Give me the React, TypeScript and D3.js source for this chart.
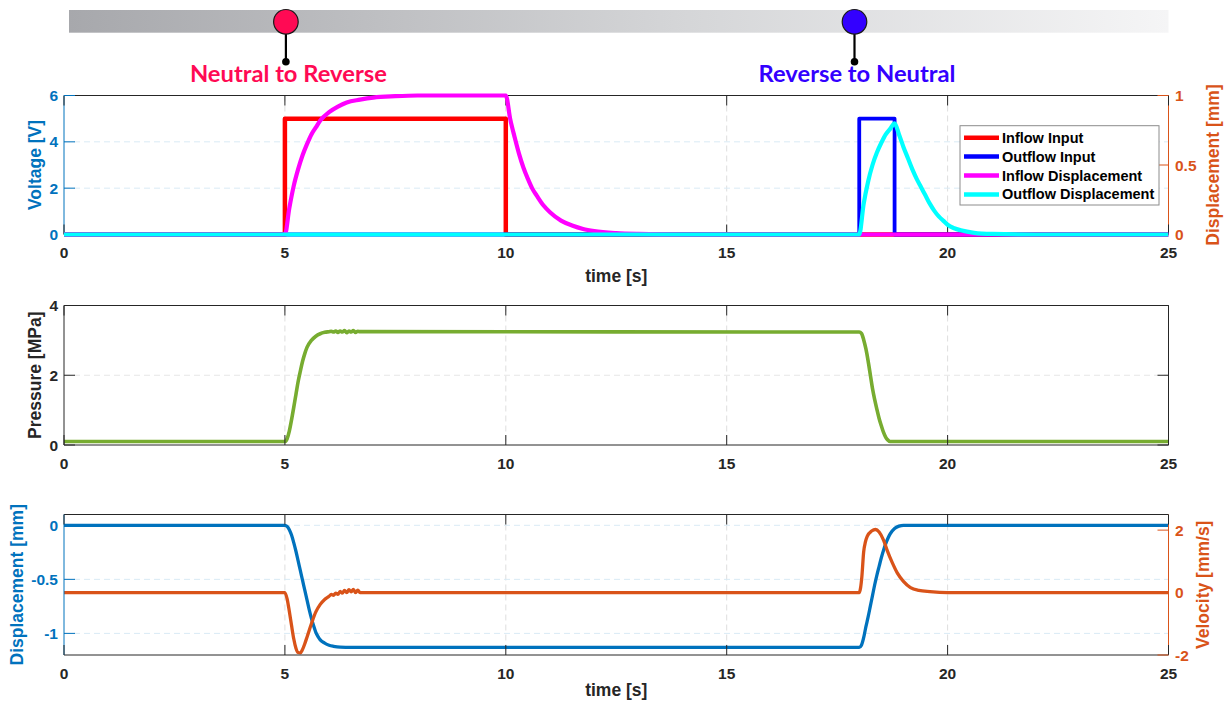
import React from 'react';
import * as d3 from 'd3';

// ---------- data ----------
const timeTicks = [0, 5, 10, 15, 20, 25];
const voltageTicks = [0, 2, 4, 6];
const valveDispTicks = [0, 0.5, 1];
const pressureTicks = [0, 2, 4];
const spoolDispTicks = [-1, -0.5, 0];
const velocityTicks = [-2, 0, 2];

type Pt = [number, number];

// valve command voltages [V]
const inflowInput: Pt[] = [[0, 0], [5, 0], [5, 5], [10, 5], [10, 0], [25, 0]];
const outflowInput: Pt[] = [[0, 0], [18, 0], [18, 5], [18.8, 5], [18.8, 0], [25, 0]];

// valve displacements [mm]
const inflowDisplacement: Pt[] = [
  [0, 0], [5, 0], [5.1, 0.19], [5.2, 0.35], [5.3, 0.47], [5.4, 0.57], [5.5, 0.65], [5.6, 0.72],
  [5.7, 0.77], [5.8, 0.82], [6.0, 0.88], [6.2, 0.92], [6.4, 0.95], [6.7, 0.97], [7.0, 0.985],
  [7.5, 0.995], [8, 1], [10, 1], [10.1, 0.83], [10.2, 0.7], [10.3, 0.58], [10.4, 0.48],
  [10.5, 0.4], [10.6, 0.33], [10.7, 0.28], [10.85, 0.21], [11, 0.16], [11.25, 0.1],
  [11.5, 0.065], [11.75, 0.04], [12, 0.025], [12.5, 0.01], [13, 0.004], [14, 0], [25, 0],
];
const outflowDisplacement: Pt[] = [
  [0, 0], [18, 0], [18.1, 0.22], [18.2, 0.38], [18.3, 0.5], [18.4, 0.59], [18.5, 0.66],
  [18.6, 0.72], [18.7, 0.76], [18.8, 0.8], [18.9, 0.72], [19.0, 0.63], [19.1, 0.55],
  [19.2, 0.47], [19.3, 0.4], [19.4, 0.34], [19.5, 0.28], [19.6, 0.22], [19.7, 0.17],
  [19.8, 0.13], [19.9, 0.1], [20, 0.07], [20.15, 0.045], [20.3, 0.03], [20.6, 0.012],
  [21, 0.004], [22, 0], [25, 0],
];

// chamber pressure [MPa]
const pressure: Pt[] = [
  [0, 0.1], [5, 0.1], [5.05, 0.18], [5.1, 0.4], [5.15, 0.72], [5.2, 1.08], [5.25, 1.45],
  [5.3, 1.82], [5.35, 2.12], [5.4, 2.4], [5.45, 2.62], [5.5, 2.8], [5.6, 3.0], [5.7, 3.12],
  [5.8, 3.19], [5.9, 3.23], [6.0, 3.25], [6.05, 3.26], [6.1, 3.24], [6.15, 3.27], [6.2, 3.23],
  [6.25, 3.27], [6.3, 3.24], [6.35, 3.28], [6.4, 3.22], [6.45, 3.27], [6.5, 3.24], [6.55, 3.28],
  [6.6, 3.23], [6.65, 3.26], [6.7, 3.25], [18, 3.24], [18.05, 3.2], [18.1, 3.02], [18.15, 2.76],
  [18.2, 2.42], [18.25, 2.02], [18.3, 1.62], [18.35, 1.3], [18.4, 1.02], [18.45, 0.76],
  [18.5, 0.55], [18.55, 0.36], [18.6, 0.22], [18.65, 0.14], [18.7, 0.1], [25, 0.1],
];

// spool displacement [mm]
const spoolDisplacement: Pt[] = [
  [0, 0], [5, 0], [5.05, -0.01], [5.1, -0.04], [5.15, -0.09], [5.2, -0.16], [5.25, -0.24],
  [5.3, -0.33], [5.35, -0.42], [5.4, -0.51], [5.45, -0.6], [5.5, -0.69], [5.55, -0.78],
  [5.6, -0.86], [5.65, -0.93], [5.7, -0.99], [5.75, -1.03], [5.8, -1.06], [5.9, -1.09],
  [6.0, -1.11], [6.1, -1.12], [6.25, -1.128], [6.5, -1.13], [18, -1.13], [18.05, -1.11],
  [18.1, -1.04], [18.15, -0.94], [18.2, -0.85], [18.25, -0.75], [18.3, -0.65], [18.35, -0.55],
  [18.4, -0.46], [18.45, -0.38], [18.5, -0.3], [18.55, -0.23], [18.6, -0.17], [18.65, -0.12],
  [18.7, -0.08], [18.8, -0.03], [18.9, -0.008], [19, 0], [25, 0],
];

// spool velocity [mm/s]
const spoolVelocity: Pt[] = [
  [0, 0], [5, 0], [5.05, -0.2], [5.1, -0.6], [5.15, -1.05], [5.2, -1.48], [5.25, -1.78],
  [5.3, -1.92], [5.35, -1.93], [5.4, -1.82], [5.45, -1.64], [5.5, -1.43], [5.6, -1.0],
  [5.7, -0.62], [5.8, -0.38], [5.9, -0.22], [6.0, -0.12], [6.05, -0.06], [6.1, -0.09],
  [6.15, -0.02], [6.2, -0.06], [6.25, 0.04], [6.3, -0.02], [6.35, 0.07], [6.4, 0.0],
  [6.45, 0.09], [6.5, 0.02], [6.55, 0.1], [6.6, 0.0], [6.65, 0.08], [6.7, 0.0], [18, 0],
  [18.03, 0.15], [18.06, 0.52], [18.1, 1.3], [18.14, 1.62], [18.18, 1.8], [18.28, 1.97],
  [18.37, 2.02], [18.45, 1.94], [18.55, 1.68], [18.63, 1.36], [18.75, 0.95], [18.86, 0.63],
  [19.0, 0.36], [19.16, 0.16], [19.35, 0.07], [19.6, 0.03], [20, 0], [25, 0],
];

const legendItems = [
  { label: 'Inflow Input', color: '#FF0000' },
  { label: 'Outflow Input', color: '#0000FF' },
  { label: 'Inflow Displacement', color: '#FF00FF' },
  { label: 'Outflow Displacement', color: '#00FFFF' },
];

// switching events shown on the timeline strip (time in s)
const events = [
  { label: 'Neutral to Reverse', time: 5, color: '#FF0A54' },
  { label: 'Reverse to Neutral', time: 17.87, color: '#3300FF' },
];

// ---------- styling ----------
const FONT = '"Liberation Sans", Arial, Helvetica, sans-serif';
const DARK = '#262626';
const AX_BLUE = '#0072BD';
const AX_ORANGE = '#D95319';
const TICK_FS = 15.5;
const LABEL_FS = 17.5;

const X0 = 64;
const X1 = 1168.5;
const x = d3.scaleLinear().domain([0, 25]).range([X0, X1]);

const lineLin = (ys: d3.ScaleLinear<number, number>) =>
  d3.line<Pt>().x((d) => x(d[0])).y((d) => ys(d[1]));
const lineSmooth = (ys: d3.ScaleLinear<number, number>) =>
  d3.line<Pt>().x((d) => x(d[0])).y((d) => ys(d[1])).curve(d3.curveMonotoneX);

const fmt = (v: number) => String(v);

type AxisProps = {
  top: number;
  bottom: number;
  yl: d3.ScaleLinear<number, number>;
  ylTicks: number[];
  ylColor: string;
  ylLabel?: string;
  ylLabelX?: number;
  yr?: d3.ScaleLinear<number, number>;
  yrTicks?: number[];
  yrColor?: string;
  yrLabel?: string;
  yrLabelX?: number;
  xLabel?: string;
  xLabelY?: number;
  gridColor: string;
};

function Grid(p: AxisProps) {
  const { top, bottom, yl } = p;
  const gridLines: React.ReactElement[] = [];
  timeTicks.forEach((t) => {
    const xx = x(t);
    if (xx > X0 + 1 && xx < X1 - 1)
      gridLines.push(
        <line key={'gx' + t} x1={xx} x2={xx} y1={top} y2={bottom} stroke="#dedede" strokeWidth={1} strokeDasharray="6 4" />
      );
  });
  p.ylTicks.forEach((v) => {
    const yy = yl(v);
    if (yy > top + 1 && yy < bottom - 1)
      gridLines.push(
        <line key={'gy' + v} x1={X0} x2={X1} y1={yy} y2={yy} stroke={p.gridColor} strokeWidth={1} strokeDasharray="6 4" />
      );
  });
  return <g>{gridLines}</g>;
}

function Axes(p: AxisProps) {
  const { top, bottom, yl } = p;
  const tl = 11;
  const xtl = 10;
  const rightColor = p.yr ? p.yrColor! : DARK;
  return (
    <g fontFamily={FONT} fontWeight="bold">
      {/* box */}
      <line x1={X0} x2={X1} y1={top} y2={top} stroke={DARK} strokeWidth={1} />
      <line x1={X0} x2={X1} y1={bottom} y2={bottom} stroke={DARK} strokeWidth={1} />
      <line x1={X0} x2={X0} y1={top} y2={bottom} stroke={p.ylColor} strokeWidth={1} />
      <line x1={X1} x2={X1} y1={top} y2={bottom} stroke={rightColor} strokeWidth={1} />
      {/* x ticks */}
      {timeTicks.map((t) => (
        <g key={'xt' + t}>
          <line x1={x(t)} x2={x(t)} y1={bottom} y2={bottom - xtl} stroke={DARK} />
          <line x1={x(t)} x2={x(t)} y1={top} y2={top + xtl} stroke={DARK} />
          <text x={x(t)} y={bottom + 23.5} textAnchor="middle" fontSize={TICK_FS} fontWeight="bold" fill={DARK}>
            {fmt(t)}
          </text>
        </g>
      ))}
      {/* left y ticks */}
      {p.ylTicks.map((v) => (
        <g key={'yl' + v}>
          <line x1={X0} x2={X0 + tl} y1={yl(v)} y2={yl(v)} stroke={p.ylColor} />
          {!p.yr && <line x1={X1} x2={X1 - tl} y1={yl(v)} y2={yl(v)} stroke={DARK} />}
          <text x={X0 - 6} y={yl(v) + 5.5} textAnchor="end" fontSize={TICK_FS} fontWeight="bold" fill={p.ylColor}>
            {fmt(v)}
          </text>
        </g>
      ))}
      {p.ylLabel && (
        <text
          transform={`translate(${p.ylLabelX},${(top + bottom) / 2}) rotate(-90)`}
          textAnchor="middle"
          fontSize={LABEL_FS}
          fontWeight="bold"
          fill={p.ylColor}
        >
          {p.ylLabel}
        </text>
      )}
      {/* right y axis */}
      {p.yr &&
        p.yrTicks!.map((v) => (
          <g key={'yr' + v}>
            <line x1={X1} x2={X1 - tl} y1={p.yr!(v)} y2={p.yr!(v)} stroke={p.yrColor} />
            <text x={X1 + 6.5} y={p.yr!(v) + 5.5} textAnchor="start" fontSize={TICK_FS} fontWeight="bold" fill={p.yrColor}>
              {fmt(v)}
            </text>
          </g>
        ))}
      {p.yr && (
        <text
          transform={`translate(${p.yrLabelX},${(top + bottom) / 2}) rotate(-90)`}
          textAnchor="middle"
          fontSize={LABEL_FS}
          fontWeight="bold"
          fill={p.yrColor}
        >
          {p.yrLabel}
        </text>
      )}
      {p.xLabel && (
        <text x={(X0 + X1) / 2} y={p.xLabelY} textAnchor="middle" fontSize={LABEL_FS} fontWeight="bold" fill={DARK}>
          {p.xLabel}
        </text>
      )}
    </g>
  );
}

export default function App() {
  // panel 1: valve inputs and displacements
  const p1Top = 95.5;
  const p1Bot = 234.5;
  const yVolt = d3.scaleLinear().domain([0, 6]).range([p1Bot, p1Top]);
  const yValve = d3.scaleLinear().domain([0, 1]).range([p1Bot, p1Top]);

  // panel 2: pressure
  const p2Top = 305.5;
  const p2Bot = 445;
  const yPress = d3.scaleLinear().domain([0, 4]).range([p2Bot, p2Top]);

  // panel 3: spool displacement and velocity
  const p3Top = 514.5;
  const p3Bot = 655;
  const ySpool = d3.scaleLinear().domain([-1.2, 0.1]).range([p3Bot, p3Top]);
  const yVel = d3.scaleLinear().domain([-2, 2.5]).range([p3Bot, p3Top]);

  const legX = 960;
  const legY = 125.7;
  const legW = 199;
  const legH = 79.3;
  const legRow = 18.9;

  return (
    <svg
      width={1225}
      height={707}
      viewBox="0 0 1225 707"
      style={{ position: 'absolute', left: 0, top: 0, background: '#fff' }}
    >
      <defs>
        <linearGradient id="timelineGrad" x1="0" x2="1" y1="0" y2="0">
          <stop offset="0" stopColor="#a7a8ac" />
          <stop offset="0.55" stopColor="#d4d5d7" />
          <stop offset="1" stopColor="#f5f5f6" />
        </linearGradient>
        <clipPath id="clip1">
          <rect x={X0} y={p1Top - 3} width={X1 - X0} height={p1Bot - p1Top + 6} />
        </clipPath>
        <clipPath id="clip2">
          <rect x={X0} y={p2Top} width={X1 - X0} height={p2Bot - p2Top} />
        </clipPath>
        <clipPath id="clip3">
          <rect x={X0} y={p3Top} width={X1 - X0} height={p3Bot - p3Top} />
        </clipPath>
      </defs>
      <rect x={0} y={0} width={1225} height={707} fill="#fff" />

      {/* timeline with event markers */}
      <rect x={69} y={10} width={1099.5} height={22.7} fill="url(#timelineGrad)" />
      {events.map((e) => {
        const cx = x(e.time) + 1;
        return (
          <g key={e.label}>
            <line x1={cx} x2={cx} y1={33} y2={61.7} stroke="#000" strokeWidth={2.2} />
            <circle cx={cx} cy={61.7} r={3.8} fill="#000" />
            <circle cx={cx} cy={21.8} r={12.3} fill={e.color} stroke="#1a1a1a" strokeWidth={1.2} />
            <text
              x={cx + 2.5}
              y={81.5}
              textAnchor="middle"
              fontFamily="Lato, 'Open Sans', sans-serif"
              fontWeight="bold"
              fontSize={22.5}
              fill={e.color}
              textLength={197}
              lengthAdjust="spacingAndGlyphs"
            >
              {e.label}
            </text>
          </g>
        );
      })}

      {/* ---- panel 1 ---- */}
      <Grid top={p1Top} bottom={p1Bot} yl={yVolt} ylTicks={voltageTicks} ylColor={AX_BLUE} gridColor="#d9eaf5" />
      <Axes
        top={p1Top}
        bottom={p1Bot}
        yl={yVolt}
        ylTicks={voltageTicks}
        ylColor={AX_BLUE}
        ylLabel="Voltage [V]"
        ylLabelX={41}
        yr={yValve}
        yrTicks={valveDispTicks}
        yrColor={AX_ORANGE}
        yrLabel="Displacement [mm]"
        yrLabelX={1218.5}
        xLabel="time [s]"
        xLabelY={282}
        gridColor="#d9eaf5"
      />
      <g clipPath="url(#clip1)" fill="none" strokeLinejoin="round">
        <path d={lineLin(yVolt)(inflowInput)!} stroke="#FF0000" strokeWidth={4.5} />
        <path d={lineLin(yVolt)(outflowInput)!} stroke="#0000FF" strokeWidth={3.8} />
        <path d={lineSmooth(yValve)(inflowDisplacement)!} stroke="#FF00FF" strokeWidth={4.2} />
        <path d={lineSmooth(yValve)(outflowDisplacement)!} stroke="#00FFFF" strokeWidth={4.2} />
      </g>
      {/* legend */}
      <g fontFamily={FONT} fontWeight="bold">
        <rect x={legX} y={legY} width={legW} height={legH} fill="#fff" stroke="#8c8c8c" strokeWidth={1} />
        {legendItems.map((it, i) => {
          const yy = legY + 12 + i * legRow;
          return (
            <g key={it.label}>
              <line x1={legX + 4} x2={legX + 39} y1={yy} y2={yy} stroke={it.color} strokeWidth={4.5} />
              <text x={legX + 42} y={yy + 5} fontSize={14.5} fontWeight="bold" fill="#000">
                {it.label}
              </text>
            </g>
          );
        })}
      </g>

      {/* ---- panel 2 ---- */}
      <Grid top={p2Top} bottom={p2Bot} yl={yPress} ylTicks={pressureTicks} ylColor={DARK} gridColor="#e6e6e6" />
      <g clipPath="url(#clip2)" fill="none" strokeLinejoin="round">
        <path d={lineSmooth(yPress)(pressure)!} stroke="#77AC30" strokeWidth={3.6} />
      </g>
      <Axes
        top={p2Top}
        bottom={p2Bot}
        yl={yPress}
        ylTicks={pressureTicks}
        ylColor={DARK}
        ylLabel="Pressure [MPa]"
        ylLabelX={41}
        gridColor="#e6e6e6"
      />

      {/* ---- panel 3 ---- */}
      <Grid top={p3Top} bottom={p3Bot} yl={ySpool} ylTicks={spoolDispTicks} ylColor={AX_BLUE} gridColor="#d9eaf5" />
      <g clipPath="url(#clip3)" fill="none" strokeLinejoin="round">
        <path d={lineSmooth(ySpool)(spoolDisplacement)!} stroke={AX_BLUE} strokeWidth={3.3} />
        <path d={lineSmooth(yVel)(spoolVelocity)!} stroke={AX_ORANGE} strokeWidth={3.3} />
      </g>
      <Axes
        top={p3Top}
        bottom={p3Bot}
        yl={ySpool}
        ylTicks={spoolDispTicks}
        ylColor={AX_BLUE}
        ylLabel="Displacement [mm]"
        ylLabelX={22.5}
        yr={yVel}
        yrTicks={velocityTicks}
        yrColor={AX_ORANGE}
        yrLabel="Velocity [mm/s]"
        yrLabelX={1209}
        xLabel="time [s]"
        xLabelY={695.5}
        gridColor="#d9eaf5"
      />
    </svg>
  );
}
